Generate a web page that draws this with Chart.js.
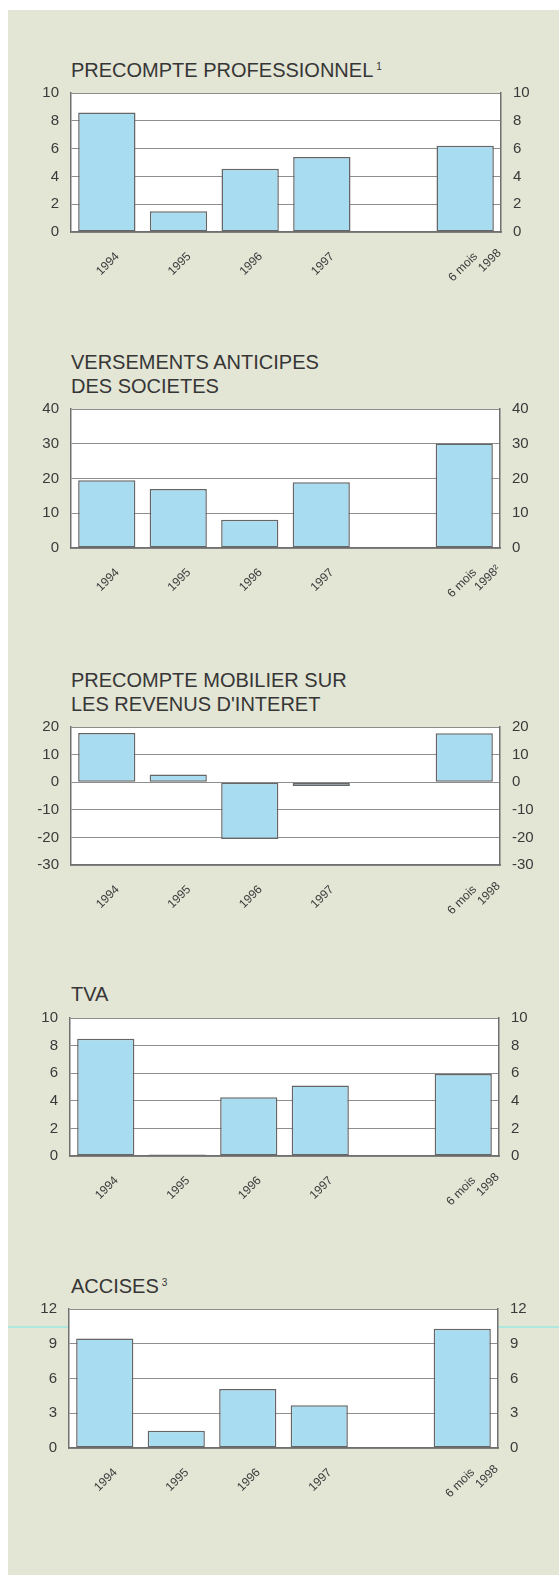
<!DOCTYPE html>
<html>
<head>
<meta charset="utf-8">
<script src="https://cdn.jsdelivr.net/npm/chart.js@4.4.1/dist/chart.umd.min.js"></script>
<style>
  html, body { margin: 0; padding: 0; background: #ffffff; }
  body { width: 559px; height: 1575px; position: relative; overflow: hidden; font-family: "Liberation Sans", Arial, sans-serif; }
  #paper { position: absolute; left: 8px; top: 10px; right: 0; bottom: 0; background: #e3e5d5; }
  .title { position: absolute; left: 71px; font-size: 20px; line-height: 24px; color: #363636; white-space: nowrap; }
  .title .sup { font-size: 10px; position: relative; top: -7px; margin-left: 3px; }
  .panel { position: absolute; left: 0; width: 559px; }
  .artifact { position: absolute; left: 8px; width: 551px; height: 2px; background: #aee6e0; }
</style>
</head>
<body>
<div id="paper"></div>
<div class="artifact" style="top:1326px"></div>

<div class="title" style="top:58.3px">PRECOMPTE PROFESSIONNEL<span class="sup">1</span></div>
<div class="title" style="top:350.2px">VERSEMENTS ANTICIPES<br>DES SOCIETES</div>
<div class="title" style="top:668px">PRECOMPTE MOBILIER SUR<br>LES REVENUS D'INTERET</div>
<div class="title" style="top:982px">TVA</div>
<div class="title" style="top:1274.3px">ACCISES<span class="sup">3</span></div>

<script>
// ---- Data ----
const categories = ['1994', '1995', '1996', '1997', '', '6 mois 1998'];
const lastLabel = ['6 mois', '1998'];
const lastLabelNote2 = ['6 mois', '1998\u00B2'];

const precompteProfessionnel = [8.6, 1.5, 4.55, 5.4, null, 6.2];
const versementsAnticipes = [19.5, 17.0, 8.1, 18.9, null, 30.1];
const precompteMobilier = [17.8, 2.8, -20.6, -1.4, null, 17.7];
const tva = [8.5, 0.1, 4.25, 5.1, null, 5.95];
const accises = [9.45, 1.5, 5.1, 3.7, null, 10.3];

const yMin = [0, 0, -30, 0, 0];
const yMax = [10, 40, 20, 10, 12];
const yStep = [2, 10, 10, 2, 3];

// ---- Layout (positions only) ----
const panels = [
  { data: precompteProfessionnel, last: lastLabel, top: 93.3, bottom: 232.7, left: 71, right: 501 },
  { data: versementsAnticipes, last: lastLabelNote2, top: 409, bottom: 548.3, left: 71, right: 500 },
  { data: precompteMobilier, last: lastLabel, top: 726.7, bottom: 865, left: 71, right: 500 },
  { data: tva, last: lastLabel, top: 1018.3, bottom: 1156, left: 70, right: 499 },
  { data: accises, last: lastLabel, top: 1309.3, bottom: 1448.3, left: 69, right: 498 }
];

const X_AXIS_H = 70;
const TRAIL = '     \u2009'; // trailing spaces shift rotated labels back along their direction
const textColor = '#3a3a3a';
const gridColor = '#8e8e8e';
const borderColor = '#707070';

const plotBg = {
  id: 'plotBg',
  beforeDraw(chart) {
    const { ctx, chartArea: a } = chart;
    ctx.save();
    ctx.fillStyle = '#ffffff';
    ctx.fillRect(a.left, a.top, a.right - a.left, a.bottom - a.top);
    ctx.restore();
  }
};

panels.forEach((p, i) => {
  const div = document.createElement('div');
  div.className = 'panel';
  const plotH = p.bottom - p.top;
  const h0 = Math.round(plotH + 20 + X_AXIS_H);
  const canvas = document.createElement('canvas');
  canvas.width = 559;
  canvas.height = h0;
  div.appendChild(canvas);
  document.body.appendChild(div);

  const labels = categories.map((c, k) => {
    if (k === categories.length - 1) return [p.last[0] + TRAIL, p.last[1]];
    return c === '' ? '' : c + TRAIL;
  });
  const leftW = p.left;
  const rightW = 559 - p.right;

  const chart = new Chart(canvas.getContext('2d'), {
    type: 'bar',
    data: {
      labels: labels,
      datasets: [{
        data: p.data,
        backgroundColor: '#a8ddf1',
        borderColor: '#666666',
        borderWidth: 1.5,
        borderSkipped: false,
        categoryPercentage: 0.8,
        barPercentage: 1.0,
        yAxisID: 'y'
      }]
    },
    options: {
      responsive: false,
      maintainAspectRatio: false,
      animation: false,
      devicePixelRatio: 1,
      layout: { padding: 0 },
      plugins: { legend: { display: false }, tooltip: { enabled: false }, title: { display: false } },
      scales: {
        x: {
          grid: { display: false, drawTicks: false },
          border: { display: true, color: borderColor, width: 1.5 },
          ticks: {
            autoSkip: false,
            maxRotation: 45,
            minRotation: 45,
            padding: 4,
            labelOffset: 24,
            color: textColor,
            font: { family: 'Liberation Sans', size: 12, lineHeight: 1.2 }
          },
          afterFit(scale) { scale.height = X_AXIS_H; }
        },
        y: {
          position: 'left',
          min: yMin[i],
          max: yMax[i],
          grid: { color: gridColor, lineWidth: 1, drawTicks: false },
          border: { display: true, color: borderColor, width: 1.5 },
          ticks: {
            stepSize: yStep[i],
            padding: 12,
            color: textColor,
            font: { family: 'Liberation Sans', size: 15 }
          },
          afterFit(scale) { scale.width = leftW; }
        },
        y2: {
          position: 'right',
          min: yMin[i],
          max: yMax[i],
          grid: { display: false, drawTicks: false },
          border: { display: true, color: borderColor, width: 1.5 },
          ticks: {
            stepSize: yStep[i],
            padding: 12,
            color: textColor,
            font: { family: 'Liberation Sans', size: 15 }
          },
          afterFit(scale) { scale.width = rightW; }
        }
      }
    },
    plugins: [plotBg]
  });

  const t = chart.chartArea.top;
  const h = Math.round(t + plotH + X_AXIS_H);
  if (h !== h0) chart.resize(559, h);
  div.style.top = (p.top - chart.chartArea.top) + 'px';
});
</script>
</body>
</html>
